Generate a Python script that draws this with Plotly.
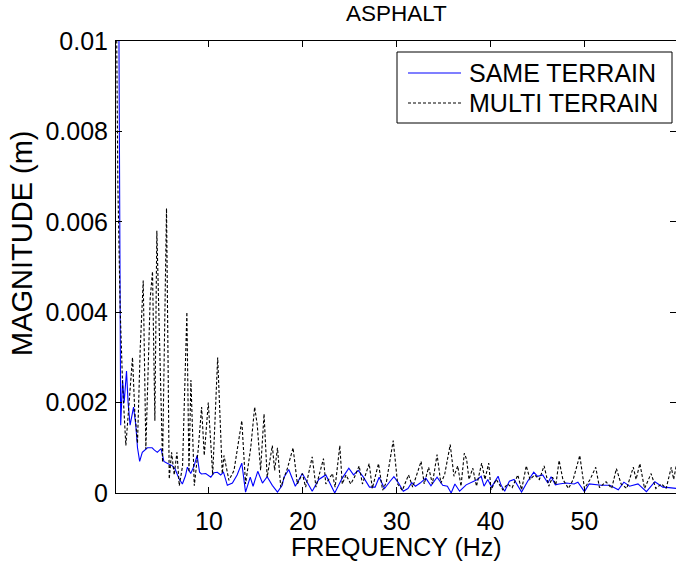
import plotly.graph_objects as go

# Spectrum of the asphalt run, frequency in Hz, magnitude in millimetres
same_freq_hz = [
    0.2, 0.45, 0.52, 0.6, 0.8, 0.97, 1.22, 1.39, 1.6, 1.97, 2.21, 2.39, 2.62, 2.9,
    3.45, 3.95, 4.2, 4.5, 4.9, 5.2, 5.55, 6.1, 6.4, 6.8, 7.17, 7.5, 7.7, 8.06, 8.42,
    8.74, 9.0, 9.2, 9.66, 10.2, 10.55, 10.9, 11.25, 11.55, 11.96, 12.5, 13.0, 13.5,
    13.9, 14.4, 14.7, 15.2, 15.7, 16.2, 16.75, 17.3, 17.8, 18.0, 18.5, 19.2, 19.95,
    20.5, 21.0, 21.7, 22.45, 23.4, 24.2, 24.9, 25.4, 25.9, 26.45, 27.1, 27.7, 28.13,
    28.7, 29.3, 29.7, 30.2, 30.7, 31.2, 31.6, 32.0, 32.5, 33.1, 33.65, 34.3, 34.9,
    35.4, 35.8, 36.2, 36.7, 37.4, 37.8, 38.1, 38.6, 39.0, 39.3, 39.7, 40.1, 40.8,
    41.1, 41.5, 42.0, 42.5, 43.3, 43.95, 44.6, 45.0, 45.55, 46.1, 46.45, 46.9, 47.3,
    48.05, 48.9, 49.3, 50.0, 50.5, 51.2, 51.8, 52.7, 53.6, 54.2, 54.8, 55.7, 56.6,
    57.5, 58.35, 59.0, 59.8,
]
same_mag_mm = [
    20.0, 7.5, 3.6, 1.5, 2.5, 2.0, 2.7, 2.0, 1.5, 1.9, 1.5, 1.0, 0.7, 0.9,
    1.0, 1.0, 0.95, 0.9, 0.98, 0.7, 0.66, 0.6, 0.53, 0.32, 0.2, 0.38, 0.57, 0.43, 0.6,
    0.83, 0.46, 0.42, 0.43, 0.35, 0.45, 0.46, 0.4, 0.46, 0.17, 0.22, 0.4, 0.66,
    0.02, 0.35, 0.15, 0.48, 0.22, 0.36, 0.17, 0.02, 0.17, 0.35, 0.52, 0.15, 0.43,
    0.24, 0.04, 0.3, 0.4, 0.0, 0.33, 0.55, 0.4, 0.5, 0.35, 0.13, 0.13, 0.35,
    0.1, 0.26, 0.36, 0.22, 0.04, 0.1, 0.23, 0.15, 0.22, 0.33, 0.16, 0.35, 0.17,
    0.15, 0.0, 0.2, 0.04, 0.18, 0.22, 0.26, 0.3, 0.37, 0.15, 0.3, 0.13, 0.37,
    0.18, 0.04, 0.26, 0.3, 0.02, 0.26, 0.46, 0.37, 0.4, 0.22, 0.36, 0.18, 0.2,
    0.22, 0.2, 0.24, 0.03, 0.2, 0.18, 0.17, 0.17, 0.07, 0.24, 0.15, 0.2, 0.03,
    0.25, 0.13, 0.12, 0.1,
]

multi_freq_hz = [
    0.1, 0.3, 0.54, 0.8, 1.15, 1.5, 1.86, 2.1, 2.39, 2.68, 3.0, 3.28, 3.74, 3.99,
    4.24, 4.45, 4.7, 5.06, 5.48, 5.77, 6.02, 6.3, 6.59, 6.84, 7.19, 7.65, 7.87, 8.08,
    8.44, 8.86, 9.22, 9.5, 9.93, 10.4, 10.93, 11.42, 11.6, 12.13, 12.67, 13.5, 13.9,
    14.45, 14.87, 15.15, 15.5, 15.87, 16.2, 16.75, 17.0, 17.3, 17.65, 18.0, 18.35,
    18.96, 19.42, 19.95, 20.3, 21.0, 21.4, 22.2, 22.45, 23.15, 23.44, 23.94, 24.2,
    24.6, 25.1, 25.5, 26.0, 26.35, 27.07, 27.4, 28.06, 28.5, 28.9, 29.63, 30.1, 30.6,
    31.26, 31.7, 32.6, 32.93, 33.4, 33.8, 34.3, 34.7, 35.1, 35.7, 36.1, 36.5, 36.85,
    37.2, 37.45, 37.7, 38.1, 38.5, 39.05, 39.4, 39.8, 40.05, 40.6, 41.3, 41.8, 42.3,
    42.9, 43.3, 43.8, 44.2, 44.7, 45.2, 45.7, 46.2, 46.6, 46.95, 47.3, 47.7, 48.3,
    48.8, 49.5, 50.0, 50.6, 51.2, 51.6, 52.3, 52.9, 53.4, 53.9, 54.5, 55.2, 55.5,
    55.9, 56.4, 57.1, 57.6, 58.2, 58.7, 59.25, 59.5, 59.8,
]
multi_mag_mm = [
    12.0, 6.8, 4.1, 2.4, 1.05, 2.1, 3.0, 1.8, 1.1, 3.2, 4.7, 0.97, 4.3, 4.9,
    1.6, 5.8, 3.9, 0.68, 6.3, 0.31, 0.9, 0.4, 0.9, 0.16, 0.6, 4.0, 0.46, 2.5,
    0.16, 0.97, 1.9, 0.83, 2.0, 0.4, 3.0, 0.43, 0.83, 0.28, 0.5, 1.6, 0.2,
    1.0, 1.9, 1.5, 0.5, 1.75, 0.35, 1.05, 0.5, 1.0, 0.13, 0.35, 0.54,
    1.0, 0.2, 0.43, 0.13, 0.8, 0.13, 0.76, 0.2, 0.43, 0.13, 1.05, 0.2,
    0.4, 0.2, 0.35, 0.6, 0.2, 0.65, 0.1, 0.65, 0.06, 0.24, 1.16, 0.2, 0.06,
    0.4, 0.13, 0.7, 0.2, 0.57, 0.2, 0.85, 0.22, 0.4, 1.07, 0.37, 0.6, 0.15,
    0.88, 0.74, 0.3, 0.55, 0.15, 0.66, 0.3, 0.66, 0.07, 0.3, 0.07, 0.2, 0.12,
    0.4, 0.07, 0.6, 0.3, 0.4, 0.3, 0.6, 0.15, 0.35, 0.18, 0.72, 0.3, 0.1,
    0.3, 0.83, 0.1, 0.3, 0.57, 0.12, 0.25, 0.1, 0.54, 0.2, 0.1, 0.57, 0.3,
    0.65, 0.1, 0.43, 0.1, 0.2, 0.1, 0.57, 0.3, 0.63,
]

y_ticks_m = [0, 0.002, 0.004, 0.006, 0.008, 0.01]
y_tick_text = ["0", "0.002", "0.004", "0.006", "0.008", "0.01"]
x_ticks_hz = [10, 20, 30, 40, 50]

FONT = "Liberation Sans, Arial, Helvetica, sans-serif"
BLUE = "#0000ff"
DASH = "3px,2px"

# Figure geometry (pixels)
W, H = 676, 561
M_L, M_R, M_T, M_B = 116, 0, 41, 68
PW, PH = W - M_L - M_R, H - M_T - M_B


def px_x(px):
    return (px - M_L) / PW


def px_y(py):
    return (H - M_B - py) / PH


fig = go.Figure()
fig.add_trace(go.Scatter(
    x=same_freq_hz, y=[v / 1000 for v in same_mag_mm],
    mode="lines", name="SAME TERRAIN",
    line=dict(color=BLUE, width=1.1),
))
fig.add_trace(go.Scatter(
    x=multi_freq_hz, y=[v / 1000 for v in multi_mag_mm],
    mode="lines", name="MULTI TERRAIN",
    line=dict(color="#000000", width=1.1, dash=DASH),
))

axis_common = dict(
    showgrid=False, zeroline=False, showline=True, linecolor="black",
    linewidth=1, ticks="inside", ticklen=6, tickcolor="black", tickwidth=1,
    mirror="ticks", tickfont=dict(family=FONT, size=25, color="black"),
)

# Boxed key in the upper right corner of the axes
box = dict(x0=397, x1=672, y0=52, y1=123)
rows = [("SAME TERRAIN", 73, dict(color=BLUE, width=1.1)),
        ("MULTI TERRAIN", 103, dict(color="black", width=1.1, dash=DASH))]

shapes = [dict(type="rect", xref="paper", yref="paper", layer="above",
               x0=px_x(box["x0"]), x1=px_x(box["x1"]),
               y0=px_y(box["y1"]), y1=px_y(box["y0"]),
               line=dict(color="black", width=1), fillcolor="white")]
key_text = []
for label, row_y, style in rows:
    shapes.append(dict(type="line", xref="paper", yref="paper", layer="above",
                       x0=px_x(408), x1=px_x(461), y0=px_y(row_y), y1=px_y(row_y),
                       line=style))
    key_text.append(dict(text=label, x=px_x(467), y=px_y(row_y),
                         xref="paper", yref="paper", xanchor="left",
                         yanchor="middle", showarrow=False,
                         font=dict(family=FONT, size=25, color="black")))

fig.update_layout(
    width=W, height=H,
    margin=dict(l=M_L, r=M_R, t=M_T, b=M_B),
    paper_bgcolor="white", plot_bgcolor="white",
    xaxis=dict(range=[0.1, 59.75], tickvals=x_ticks_hz, ticklabelstandoff=6,
               **axis_common),
    yaxis=dict(range=[0, 0.01], tickvals=y_ticks_m, ticktext=y_tick_text,
               ticklabelstandoff=2, **axis_common),
    showlegend=False,
    shapes=shapes,
    annotations=[
        dict(text="ASPHALT", x=0.5, y=1.0, xref="paper", yref="paper",
             yanchor="middle", yshift=28, showarrow=False,
             font=dict(family=FONT, size=22.5, color="black")),
        dict(text="FREQUENCY (Hz)", x=0.5, y=0, xref="paper", yref="paper",
             yanchor="middle", yshift=-54, showarrow=False,
             font=dict(family=FONT, size=25, color="black")),
        dict(text="MAGNITUDE (m)", x=0, y=0.5, xref="paper", yref="paper",
             xanchor="center", yanchor="middle", xshift=-94, yshift=24,
             textangle=-90, showarrow=False,
             font=dict(family=FONT, size=29, color="black")),
    ] + key_text,
)

fig.write_html("out.html")
